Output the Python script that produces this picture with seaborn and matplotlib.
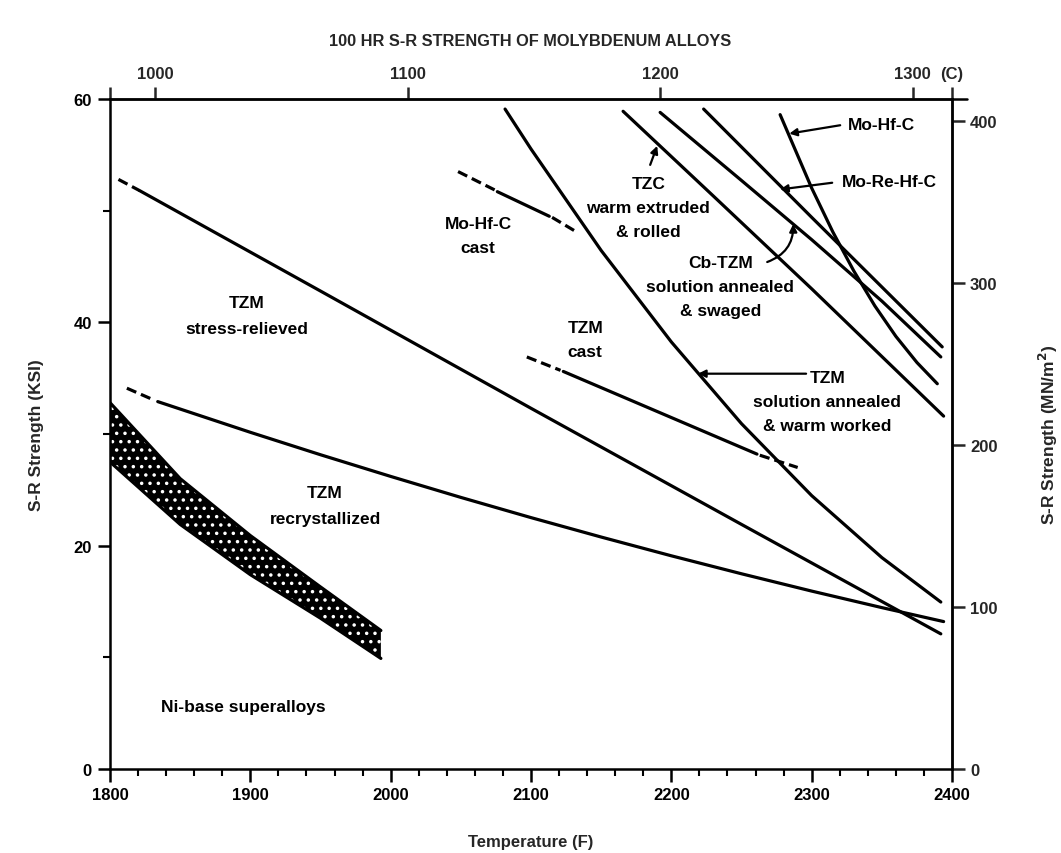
import numpy as np
import pandas as pd
import matplotlib
matplotlib.use("Agg")
import matplotlib.pyplot as plt
from matplotlib.ticker import NullLocator
import seaborn as sns

# ---------------- data (Temperature F, strength KSI) ----------------
sr_dash_F = [1806, 1821]
sr_dash_K = [52.8, 51.8]
sr_F = [1821, 1950, 2100, 2250, 2392]
sr_K = [51.8, 42.8, 32.3, 21.9, 12.1]

rec_dash_F = [1812, 1832]
rec_dash_K = [34.1, 33.0]
rec_F = [1834, 1900, 1950, 2000, 2050, 2100, 2150, 2200, 2250, 2300, 2350, 2394]
rec_K = [32.9, 30.15, 28.14, 26.2, 24.32, 22.51, 20.77, 19.09, 17.48, 15.93,
         14.45, 13.2]

ni_F = [1800, 1850, 1900, 1950, 1993]
ni_hi = [32.8, 26.0, 20.9, 16.3, 12.4]
ni_lo = [27.5, 21.9, 17.4, 13.5, 9.9]

tzmcast_d1_F = [2097, 2121]
tzmcast_d1_K = [36.9, 35.7]
tzmcast_F = [2123, 2261]
tzmcast_K = [35.6, 28.2]
tzmcast_d2_F = [2263, 2290]
tzmcast_d2_K = [28.1, 27.0]

mohfcast_d1_F = [2048, 2075]
mohfcast_d1_K = [53.5, 51.8]
mohfcast_F = [2076, 2113]
mohfcast_K = [51.7, 49.5]
mohfcast_d2_F = [2115, 2131]
mohfcast_d2_K = [49.4, 48.2]

tzmsol_F = [2081.5, 2100, 2150, 2200, 2250, 2300, 2350, 2392]
tzmsol_K = [59.1, 55.52, 46.43, 38.24, 30.92, 24.48, 18.93, 14.95]

tzc_F = [2165.6, 2230, 2300, 2394]
tzc_K = [58.9, 51.3, 43.0, 31.6]

cbtzm_F = [2192, 2250, 2300, 2350, 2392]
cbtzm_K = [58.8, 52.7, 47.4, 41.9, 36.9]

morehfc_F = [2223, 2300, 2393]
morehfc_K = [59.1, 49.4, 37.8]

mohfc_F = [2277.5, 2300, 2315, 2330, 2345, 2360, 2375, 2389.5]
mohfc_K = [58.6, 52.02, 48.11, 44.6, 41.47, 38.74, 36.4, 34.5]

x_ticks = [1800, 1900, 2000, 2100, 2200, 2300, 2400]
y_ticks = [0, 20, 40, 60]
c_ticks = [1000, 1100, 1200, 1300]
mpa_ticks = [0, 100, 200, 300, 400]

# ---------------- style ----------------
sns.set_theme(style="ticks")
plt.rcParams["font.family"] = ["Liberation Sans", "DejaVu Sans"]
plt.rcParams["hatch.linewidth"] = 1.3

fig = plt.figure(figsize=(10.61, 8.54), dpi=100)
ax = fig.add_axes([0.1037, 0.0984, 0.7936, 0.7845])

LW = 2.3
DASH = (0, (3.2, 1.6))


def line(F, K, dashed=False):
    df = pd.DataFrame({"F": F, "K": K})
    sns.lineplot(data=df, x="F", y="K", ax=ax, color="black", lw=LW,
                 sort=False, estimator=None,
                 linestyle=DASH if dashed else "-")


line(sr_dash_F, sr_dash_K, True)
line(sr_F, sr_K)
line(rec_dash_F, rec_dash_K, True)
line(rec_F, rec_K)
line(tzmcast_d1_F, tzmcast_d1_K, True)
line(tzmcast_F, tzmcast_K)
line(tzmcast_d2_F, tzmcast_d2_K, True)
line(mohfcast_d1_F, mohfcast_d1_K, True)
line(mohfcast_F, mohfcast_K)
line(mohfcast_d2_F, mohfcast_d2_K, True)
line(tzmsol_F, tzmsol_K)
line(tzc_F, tzc_K)
line(cbtzm_F, cbtzm_K)
line(morehfc_F, morehfc_K)
line(mohfc_F, mohfc_K)

# Ni-base superalloy band
ax.fill_between(ni_F, ni_lo, ni_hi, facecolor="black", edgecolor="white",
                hatch="..", linewidth=0)
line(ni_F, ni_hi)
line(ni_F, ni_lo)

ax.set_xlim(1800, 2400)
ax.set_ylim(0, 60)
ax.set_xticks(x_ticks)
ax.set_xticks(np.arange(1800, 2401, 20), minor=True)
ax.set_yticks(y_ticks)
ax.set_yticks([10, 30, 50], minor=True)
ax.tick_params(which="major", direction="out", length=9, width=1.8,
               labelsize=12, color="black", labelcolor="black", pad=4)
ax.tick_params(which="minor", direction="out", length=5, width=1.5,
               color="black")
for lab in ax.get_xticklabels() + ax.get_yticklabels():
    lab.set_fontweight("bold")
for s in ax.spines.values():
    s.set_visible(True)
    s.set_linewidth(1.8)
    s.set_color("black")

ax.set_xlabel("Temperature (F)", fontsize=12, fontweight="bold", labelpad=23)
ax.set_ylabel("S-R Strength (KSI)", fontsize=12.5, fontweight="bold",
              labelpad=21)

# top Celsius axis
secx = ax.secondary_xaxis("top", functions=(lambda f: (f - 32) * 5 / 9,
                                            lambda c: c * 9 / 5 + 32))
secx.set_xticks([982.23] + c_ticks + [1315.55],
                labels=[""] + [str(c) for c in c_ticks] + ["(C)"])
secx.xaxis.set_minor_locator(NullLocator())
secx.tick_params(direction="out", length=9, width=1.8, labelsize=12, pad=4)
for lab in secx.get_xticklabels():
    lab.set_fontweight("bold")
for s in secx.spines.values():
    s.set_linewidth(1.8)

# right MN/m^2 axis
secy = ax.secondary_yaxis("right", functions=(lambda k: k * 6.895,
                                              lambda m: m / 6.895))
secy.set_yticks(mpa_ticks)
secy.yaxis.set_minor_locator(NullLocator())
secy.tick_params(direction="out", length=9, width=1.8, labelsize=12, pad=4)
for lab in secy.get_yticklabels():
    lab.set_fontweight("bold")
for s in secy.spines.values():
    s.set_linewidth(1.8)
secy.set_ylabel("S-R Strength (MN/m$\\mathbf{^2}$)", fontsize=12.5,
                fontweight="bold", labelpad=28)

# extend top line a bit past right axis
ax.plot([1.0, 1.018], [1.0, 1.0], transform=ax.transAxes, color="black",
        lw=1.8, clip_on=False)

fig.text(0.4995, 1 - 42 / 854, "100 HR S-R STRENGTH OF MOLYBDENUM ALLOYS",
         ha="center", va="center", fontsize=11.8, fontweight="bold")

# ---------------- annotations ----------------
TKW = dict(ha="center", va="center", fontsize=12.5, fontweight="bold",
           linespacing=1.75, color="black")
ax.text(1897.6, 40.6, "TZM\nstress-relieved", **dict(TKW, linespacing=1.95))
ax.text(1953.2, 23.6, "TZM\nrecrystallized", **dict(TKW, linespacing=1.95))
ax.text(1894.8, 5.6, "Ni-base superalloys", **TKW)
ax.text(2062.3, 47.8, "Mo-Hf-C\ncast", **TKW)
ax.text(2183.5, 50.3, "TZC\nwarm extruded\n& rolled", **TKW)
ax.text(2234.8, 43.2, "Cb-TZM\nsolution annealed\n& swaged", **TKW)
ax.text(2138.6, 38.5, "TZM\ncast", **TKW)
ax.text(2311.0, 32.9, "TZM\nsolution annealed\n& warm worked", **TKW)
ax.text(2349.5, 57.7, "Mo-Hf-C", **TKW)
ax.text(2355.0, 52.6, "Mo-Re-Hf-C", **TKW)

AP = dict(arrowstyle="-|>", color="black", lw=1.6, mutation_scale=11,
          shrinkA=0, shrinkB=0)
ax.annotate("", xy=(2284, 56.9), xytext=(2320.3, 57.65), arrowprops=AP)
ax.annotate("", xy=(2277.5, 51.9), xytext=(2314.6, 52.5), arrowprops=AP)
ax.annotate("", xy=(2189.9, 55.8), xytext=(2184.9, 54.1), arrowprops=AP)
ax.annotate("", xy=(2286.8, 48.8), xytext=(2268.3, 45.4),
            arrowprops=dict(AP, connectionstyle="arc3,rad=0.35"))
ax.annotate("", xy=(2219.0, 35.4), xytext=(2296.0, 35.4), arrowprops=AP)

fig.savefig("out.png", dpi=100)
